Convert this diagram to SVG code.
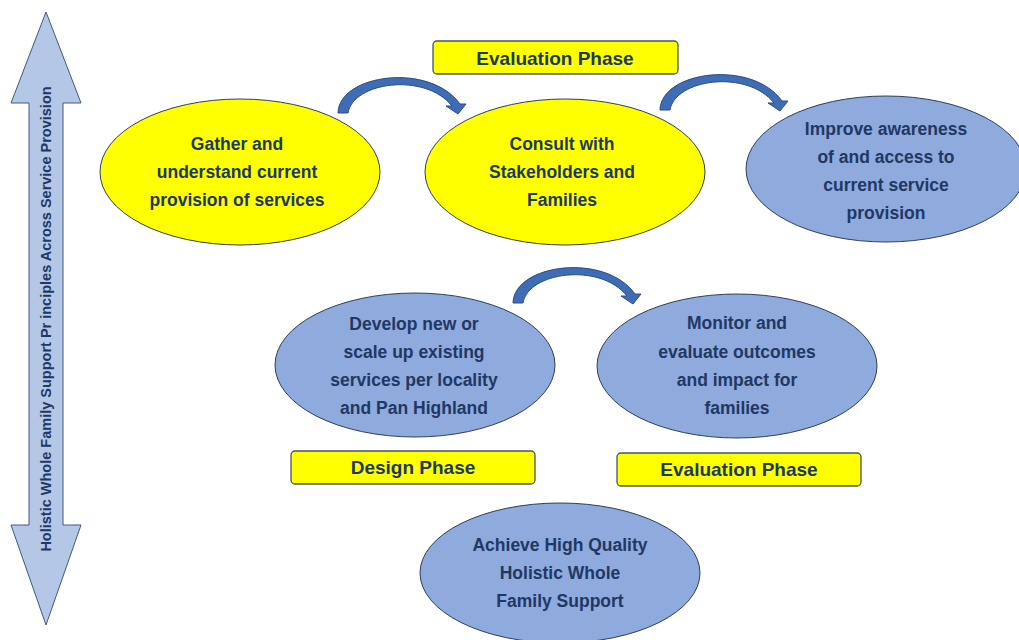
<svg xmlns="http://www.w3.org/2000/svg" width="1019" height="640" viewBox="0 0 1019 640">
<style>
.t{font-family:"Liberation Sans",Arial,sans-serif;font-weight:bold;fill:#203864;text-anchor:middle}
.e{font-size:17.5px}
.l{font-size:19px}
.y{fill:#FFFF00;stroke:#2F3E5C;stroke-width:1}
.b{fill:#8FAADC;stroke:#2F3E5C;stroke-width:1}
.lab{fill:#FFFF00;stroke:#44546A;stroke-width:1.3}
.ca{fill:#3F6DB5;stroke:#2A4C86;stroke-width:1}
</style>
<defs>
<path id="carc" d="M338,113 C339,74 430,62 460,104 L466,104 L458,114 L446,106 L452,106 C425,72 353,82 348,113 Z"/>
</defs>
<rect width="1019" height="640" fill="#fff"/>
<g id="side-arrow">
<polygon points="46,12 81,103 63,103 63,525 81,525 46,625 11,525 29,525 29,103 11,103" fill="#B4C7E7" stroke="#41597D" stroke-width="1"/>
<text class="t" font-size="14.5" transform="translate(51,319) rotate(-90)">Holistic Whole Family Support Pr inciples Across Service Provision</text>
</g>
<g id="connectors">
<use href="#carc" class="ca"/>
<use href="#carc" class="ca" transform="translate(322,-3)"/>
<use href="#carc" class="ca" transform="translate(175,190)"/>
</g>
<g id="label-eval-top">
<rect class="lab" x="433" y="41" width="245" height="33" rx="4"/>
<text class="t l" x="555" y="65">Evaluation Phase</text>
</g>
<g id="label-design">
<rect class="lab" x="291" y="451" width="244" height="33" rx="4"/>
<text class="t l" x="413" y="474">Design Phase</text>
</g>
<g id="label-eval-bottom">
<rect class="lab" x="617" y="453" width="244" height="33" rx="4"/>
<text class="t l" x="739" y="476">Evaluation Phase</text>
</g>
<g id="node-gather">
<ellipse class="y" cx="240" cy="172" rx="140" ry="73"/>
<text class="t e" x="237" y="150">Gather and</text>
<text class="t e" x="237" y="178">understand current</text>
<text class="t e" x="237" y="206">provision of services</text>
</g>
<g id="node-consult">
<ellipse class="y" cx="565" cy="172" rx="140" ry="73"/>
<text class="t e" x="562" y="150">Consult with</text>
<text class="t e" x="562" y="178">Stakeholders and</text>
<text class="t e" x="562" y="206">Families</text>
</g>
<g id="node-improve">
<ellipse class="b" cx="886" cy="169" rx="140" ry="73"/>
<text class="t e" x="886" y="135">Improve awareness</text>
<text class="t e" x="886" y="163">of and access to</text>
<text class="t e" x="886" y="191">current service</text>
<text class="t e" x="886" y="219">provision</text>
</g>
<g id="node-develop">
<ellipse class="b" cx="415" cy="365" rx="140" ry="72"/>
<text class="t e" x="414" y="330">Develop new or</text>
<text class="t e" x="414" y="358">scale up existing</text>
<text class="t e" x="414" y="386">services per locality</text>
<text class="t e" x="414" y="414">and Pan Highland</text>
</g>
<g id="node-monitor">
<ellipse class="b" cx="737" cy="366" rx="140" ry="72"/>
<text class="t e" x="737" y="329">Monitor and</text>
<text class="t e" x="737" y="358">evaluate outcomes</text>
<text class="t e" x="737" y="386">and impact for</text>
<text class="t e" x="737" y="414">families</text>
</g>
<g id="node-achieve">
<ellipse class="b" cx="560" cy="573" rx="140" ry="70"/>
<text class="t e" x="560" y="551">Achieve High Quality</text>
<text class="t e" x="560" y="579">Holistic Whole</text>
<text class="t e" x="560" y="607">Family Support</text>
</g>
</svg>
